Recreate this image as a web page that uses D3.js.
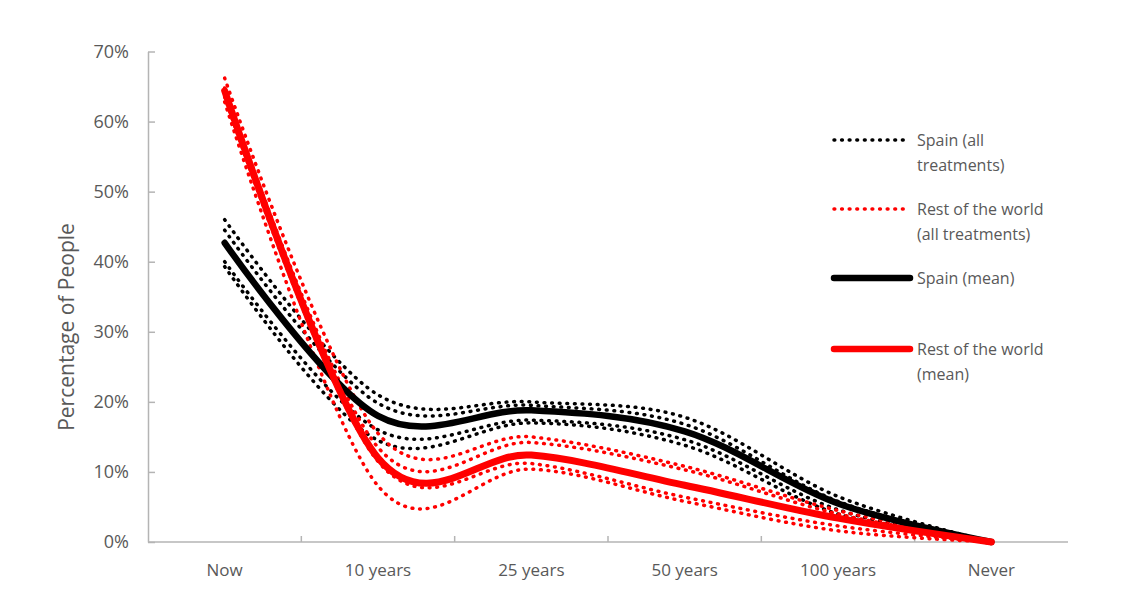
<!DOCTYPE html>
<html><head><meta charset="utf-8">
<script src="https://cdn.jsdelivr.net/npm/d3@7"></script>
<style>
body{margin:0;background:#fff}
text{font-family:"Open Sans",sans-serif;fill:#595959}
</style>
</head><body><svg id="c" width="1121" height="594"></svg>
<script>
const categories = ["Now","10 years","25 years","50 years","100 years","Never"];
const yTicks = [0,10,20,30,40,50,60,70];
const spainTreatments = [
  [46.0, 21.0, 20.0, 17.8, 6.5, 0],
  [44.5, 19.8, 19.5, 16.8, 5.8, 0],
  [40.0, 16.0, 17.4, 14.6, 4.6, 0],
  [39.3, 14.5, 17.0, 13.8, 4.0, 0]
];
const restTreatments = [
  [66.2, 15.5, 15.0, 10.8, 4.5, 0],
  [64.8, 13.5, 14.2, 10.3, 4.0, 0],
  [63.5, 11.5, 11.2, 6.4, 2.3, 0],
  [62.8, 8.0, 10.4, 5.8, 1.6, 0]
];
const spainMean = [42.7, 18.0, 18.8, 15.8, 5.5, 0];
const restMean = [64.4, 12.0, 12.4, 8.1, 3.4, 0];
const legendLabels = [
  ["Spain (all","treatments)"],
  ["Rest of the world","(all treatments)"],
  ["Spain (mean)"],
  ["Rest of the world","(mean)"]
];

const svg = d3.select("#c");
const mLeft = 148, mRight = 1068, mTop = 51.5, mBottom = 542;
const x = d3.scaleBand().domain(categories).range([mLeft, mRight]).padding(0);
const y = d3.scaleLinear().domain([0, 70]).range([mBottom, mTop]);
const cx = c => x(c) + x.bandwidth() / 2;
const axisColor = "#b4b4b4";

// Y axis
const yAxis = svg.append("g").attr("transform", `translate(${mLeft},0)`)
  .call(d3.axisLeft(y).tickValues(yTicks).tickSizeInner(-7).tickSizeOuter(0).tickPadding(19)
    .tickFormat(d => d + "%"));
yAxis.selectAll("path,line").attr("stroke", axisColor).attr("stroke-width", 1.5);
yAxis.selectAll("text").attr("font-size", 18).attr("font-family", "Open Sans").attr("fill", "#595959");

// X axis (labels)
const xAxis = svg.append("g").attr("transform", `translate(0,${mBottom})`)
  .call(d3.axisBottom(x).tickSize(0).tickPadding(22));
xAxis.select("path").attr("stroke", axisColor).attr("stroke-width", 1.5)
  .attr("d", `M${mLeft},0H${mRight}`);
xAxis.selectAll("text").attr("font-size", 17).attr("font-family", "Open Sans").attr("fill", "#595959");
// boundary ticks (inside)
svg.append("g").selectAll("line").data(categories.slice(1)).join("line")
  .attr("x1", d => x(d)).attr("x2", d => x(d))
  .attr("y1", mBottom).attr("y2", mBottom - 6)
  .attr("stroke", axisColor).attr("stroke-width", 1.5);

// Y title
svg.append("text").attr("transform", "translate(74,327) rotate(-90)")
  .attr("text-anchor", "middle").attr("font-size", 21).text("Percentage of People");

const line = d3.line().x((d, i) => cx(categories[i])).y(d => y(d)).curve(d3.curveCardinal.tension(0));

const plot = svg.append("g");
const dotted = (color) => sel => sel.attr("fill", "none").attr("stroke", color)
  .attr("stroke-width", 3.5).attr("stroke-linecap", "round").attr("stroke-dasharray", "0.8 6.8");

plot.selectAll(".sp").data(spainTreatments).join("path").attr("class", "sp")
  .attr("d", line).call(dotted("#000"));
plot.selectAll(".rw").data(restTreatments).join("path").attr("class", "rw")
  .attr("d", line).call(dotted("#ff0000"));
plot.append("path").datum(spainMean).attr("d", line).attr("fill", "none")
  .attr("stroke", "#000").attr("stroke-width", 6.5).attr("stroke-linecap", "round");
plot.append("path").datum(restMean).attr("d", line).attr("fill", "none")
  .attr("stroke", "#ff0000").attr("stroke-width", 7).attr("stroke-linecap", "round");

// Legend
const legY = [140, 209, 278, 349];
const leg = svg.append("g");
const styles = [
  s => s.call(dotted("#000")),
  s => s.call(dotted("#ff0000")),
  s => s.attr("stroke", "#000").attr("stroke-width", 6.5).attr("stroke-linecap", "round"),
  s => s.attr("stroke", "#ff0000").attr("stroke-width", 6.5).attr("stroke-linecap", "round")
];
legendLabels.forEach((lab, i) => {
  leg.append("line").attr("x1", 834).attr("x2", 910).attr("y1", legY[i]).attr("y2", legY[i])
    .call(styles[i]);
  const t = leg.append("text").attr("x", 917).attr("y", legY[i]).attr("font-size", 16)
    .attr("dominant-baseline", "central");
  lab.forEach((l, j) => t.append("tspan").attr("x", 917).attr("dy", j === 0 ? 0 : 25).text(l));
});
</script>
</body></html>
